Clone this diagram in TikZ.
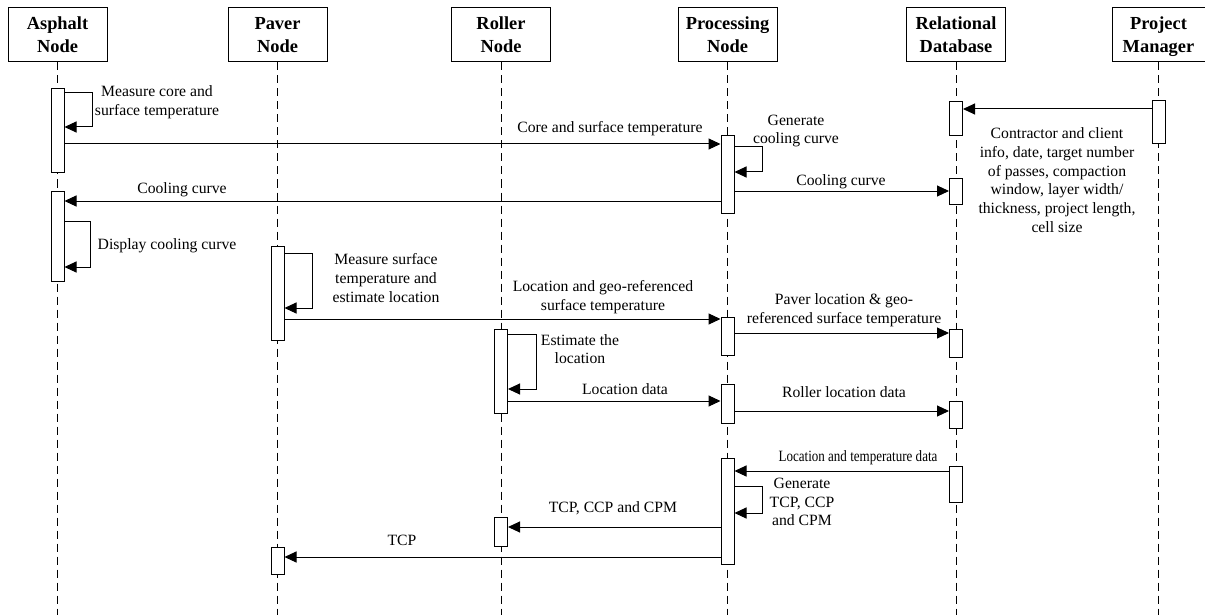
\documentclass[tikz,border=0pt]{standalone}
\usepackage{graphicx}
\usepackage{fontspec}
\setmainfont{Liberation Serif}
\usetikzlibrary{arrows.meta}

\begin{document}
\begin{tikzpicture}[
        x=1pt, y=-1pt, line width=1pt,
        head/.style={draw, rectangle, minimum width=99, minimum height=54, inner sep=0pt, align=center, font=\bfseries\fontsize{18.4}{23}\selectfont},
        life/.style={dash pattern=on 8pt off 5pt},
        act/.style={draw, rectangle, fill=white, minimum width=13, inner sep=0pt},
        msg/.style={-{Triangle[length=12pt, width=11pt]}},
        lbl/.style={align=center, inner sep=0pt, font=\fontsize{15.7}{18.7}\selectfont}
    ]
    \useasboundingbox (0,0) rectangle (1205,615);

    \node[head] (asph) at (57.5,35) {Asphalt\\Node};
    \node[head] (paver) at (277.5,35) {Paver\\Node};
    \node[head] (roller) at (501,35) {Roller\\Node};
    \node[head] (proc) at (727.5,35) {Processing\\Node};
    \node[head] (db) at (956,35) {Relational\\Database};
    \node[head, minimum width=93] (pm) at (1158.5,35) {Project\\\smash{Manager}};

    \foreach \n in {asph,paver,roller,proc,db,pm}
        \draw[life] (\n.south) -- (\n.south |- 0,615);

    \node[act, minimum height=84] (a1) at (asph |- 0,131) {};
    \node[act, minimum height=90] (a2) at (asph |- 0,236) {};
    \node[act, minimum height=77] (p1) at (proc |- 0,174.5) {};
    \node[act, minimum height=34] (r1) at (db |- 0,119) {};
    \node[act, minimum height=26] (r2) at (db |- 0,191) {};
    \node[act, minimum height=43] (m1) at (pm |- 0,122.5) {};
    \node[act, minimum height=94] (v1) at (paver |- 0,293) {};
    \node[act, minimum height=38] (p2) at (proc |- 0,336) {};
    \node[act, minimum height=28] (r3) at (db |- 0,343) {};
    \node[act, minimum height=84] (o1) at (roller |- 0,371) {};
    \node[act, minimum height=39] (p3) at (proc |- 0,403.5) {};
    \node[act, minimum height=27] (r4) at (db |- 0,414.5) {};
    \node[act, minimum height=106] (p4) at (proc |- 0,511) {};
    \node[act, minimum height=36] (r5) at (db |- 0,484) {};
    \node[act, minimum height=29] (o2) at (roller |- 0,531.5) {};
    \node[act, minimum height=27] (v2) at (paver |- 0,560.5) {};

    \draw[msg] (m1.west |- 0,109) -- (r1.east |- 0,109);
    \node[lbl] (info) at (1057,180) {Contractor and client\\info, date, target number\\of passes, compaction\\window, layer width/\\thickness, project length,\\cell size};

    \draw[msg] (a1.east |- 0,93) -- ++(28,0) |- (a1.east |- 0,127);
    \node[lbl] (measure) at (157,102) {Measure core and\\surface temperature};
    \draw[msg] (a1.east |- 0,144) -- (p1.west |- 0,144);
    \node[lbl] (coretemp) at (610,129) {Core and surface temperature};

    \draw[msg] (p1.east |- 0,147) -- ++(28,0) |- (p1.east |- 0,172);
    \node[lbl] (gencurve) at (796,131) {Generate\\cooling curve};
    \draw[msg] (p1.west |- 0,201) -- (a2.east |- 0,201);
    \node[lbl] (curveback) at (182,190) {Cooling curve};
    \draw[msg] (p1.east |- 0,191) -- (r2.west |- 0,191);
    \node[lbl] (curvedb) at (841,182) {Cooling curve};

    \draw[msg] (a2.east |- 0,221) -- ++(26,0) |- (a2.east |- 0,267);
    \node[lbl] (display) at (167,246) {Display cooling curve};

    \draw[msg] (v1.east |- 0,253) -- ++(28,0) |- (v1.east |- 0,308);
    \node[lbl] (paverloop) at (386,278) {Measure surface\\temperature and\\estimate location};
    \draw[msg] (v1.east |- 0,319) -- (p2.west |- 0,319);
    \node[lbl] (geotemp) at (603,297) {Location and geo-referenced\\surface temperature};
    \draw[msg] (p2.east |- 0,333) -- (r3.west |- 0,333);
    \node[lbl] (pavergeo) at (844,310) {Paver location \& geo-\\referenced surface temperature};

    \draw[msg] (o1.east |- 0,334) -- ++(28,0) |- (o1.east |- 0,389);
    \node[lbl] (estimate) at (580,349) {Estimate the\\location};
    \draw[msg] (o1.east |- 0,401) -- (p3.west |- 0,401);
    \node[lbl] (locdata) at (625,389) {Location data};
    \draw[msg] (p3.east |- 0,411) -- (r4.west |- 0,411);
    \node[lbl] (rollerdata) at (844,392) {Roller location data};

    \draw[msg] (r5.west |- 0,471) -- (p4.east |- 0,471);
    \node[lbl] (loctemp) at (858,458) {\scalebox{0.83}[1]{Location and temperature data}};
    \draw[msg] (p4.east |- 0,486) -- ++(28,0) |- (p4.east |- 0,513);
    \node[lbl] (gentcp) at (802,502) {Generate\\TCP, CCP\\and CPM};
    \draw[msg] (p4.west |- 0,527) -- (o2.east |- 0,527);
    \node[lbl] (tcpall) at (613,508) {TCP, CCP and CPM};
    \draw[msg] (p4.west |- 0,557) -- (v2.east |- 0,557);
    \node[lbl] (tcp) at (402,540) {TCP};
\end{tikzpicture}
\end{document}
